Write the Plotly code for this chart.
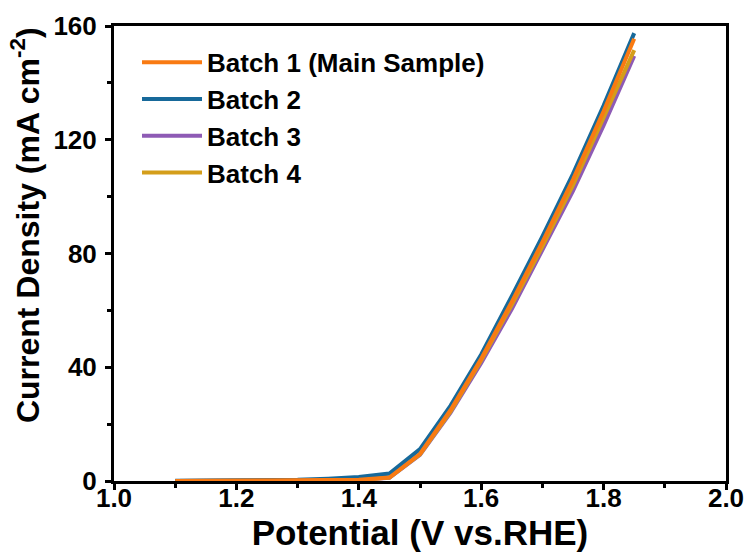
import plotly.graph_objects as go

potential = [1.10, 1.15, 1.20, 1.25, 1.30, 1.35, 1.40, 1.45, 1.50, 1.55, 1.60, 1.65, 1.70, 1.75, 1.80, 1.85]
batch1 = [0.02, 0.03, 0.05, 0.08, 0.12, 0.2, 0.4, 1.2, 9.5, 25.0, 43.0, 63.0, 84.0, 106.0, 130.0, 155.5]
batch2 = [0.05, 0.08, 0.12, 0.2, 0.4, 0.8, 1.4, 2.6, 11.2, 26.5, 44.5, 65.0, 86.0, 108.0, 132.0, 157.5]
batch3 = [0.02, 0.03, 0.05, 0.08, 0.1, 0.2, 0.4, 1.1, 9.2, 24.0, 41.5, 60.5, 81.0, 102.0, 125.0, 149.5]
batch4 = [0.02, 0.03, 0.05, 0.08, 0.12, 0.2, 0.4, 1.2, 9.4, 24.5, 42.5, 62.0, 82.5, 104.0, 127.5, 151.5]

names = ["Batch 1 (Main Sample)", "Batch 2", "Batch 3", "Batch 4"]
colors = ["#F97A12", "#17699A", "#8E5BB5", "#D49E1A"]
series = [batch1, batch2, batch3, batch4]

x_ticks = [1.0, 1.2, 1.4, 1.6, 1.8, 2.0]
x_ticklabels = ["1.0", "1.2", "1.4", "1.6", "1.8", "2.0"]
y_ticks = [0, 40, 80, 120, 160]
y_ticklabels = ["0", "40", "80", "120", "160"]

FONT = "Liberation Sans, Arial, sans-serif"

fig = go.Figure()
draw_order = [2, 3, 1, 0]
for i in draw_order:
    fig.add_trace(go.Scatter(
        x=potential, y=series[i], mode="lines", name=names[i],
        line=dict(color=colors[i], width=4),
        legendrank=i + 1, legendgroup=str(i),
    ))

axis_common = dict(
    showline=True, linecolor="black", linewidth=3, mirror=True,
    ticks="outside", ticklen=6, tickwidth=3, tickcolor="black",
    showgrid=False, zeroline=False, automargin=False,
    tickfont=dict(family=FONT, size=26, color="black"),
)

fig.update_xaxes(
    range=[1.0, 2.0], tickmode="array", tickvals=x_ticks,
    ticktext=["<b>%s</b>" % t for t in x_ticklabels],
    ticklabelstandoff=-14,
    minor=dict(ticks="outside", dtick=0.1, ticklen=4, tickwidth=3, tickcolor="black"),
    title=dict(text="<b>Potential (V vs.RHE)</b>", standoff=6,
               font=dict(family=FONT, size=35, color="black")),
    **axis_common,
)
fig.update_yaxes(
    range=[0, 160], tickmode="array", tickvals=y_ticks,
    ticktext=["<b>%s</b>" % t for t in y_ticklabels],
    ticklabelstandoff=3,
    minor=dict(ticks="outside", dtick=20, ticklen=4, tickwidth=3, tickcolor="black"),
    **axis_common,
)

fig.add_annotation(
    text="<b>Current Density (mA cm<sup>-2</sup>)</b>",
    xref="paper", yref="paper", x=-0.145, y=0.563,
    xanchor="center", yanchor="middle", textangle=-90, showarrow=False,
    font=dict(family=FONT, size=32, color="black"),
)

fig.update_layout(
    width=748, height=559,
    margin=dict(l=114, r=22, t=26, b=78),
    plot_bgcolor="white", paper_bgcolor="white",
    showlegend=True,
    legend=dict(
        x=0.0376, y=0.972, xanchor="left", yanchor="top",
        bgcolor="rgba(0,0,0,0)", borderwidth=0,
        font=dict(family=FONT, size=26, color="black", weight="bold"),
        tracegroupgap=0, itemwidth=60,
    ),
)

fig.write_html("out.html")
